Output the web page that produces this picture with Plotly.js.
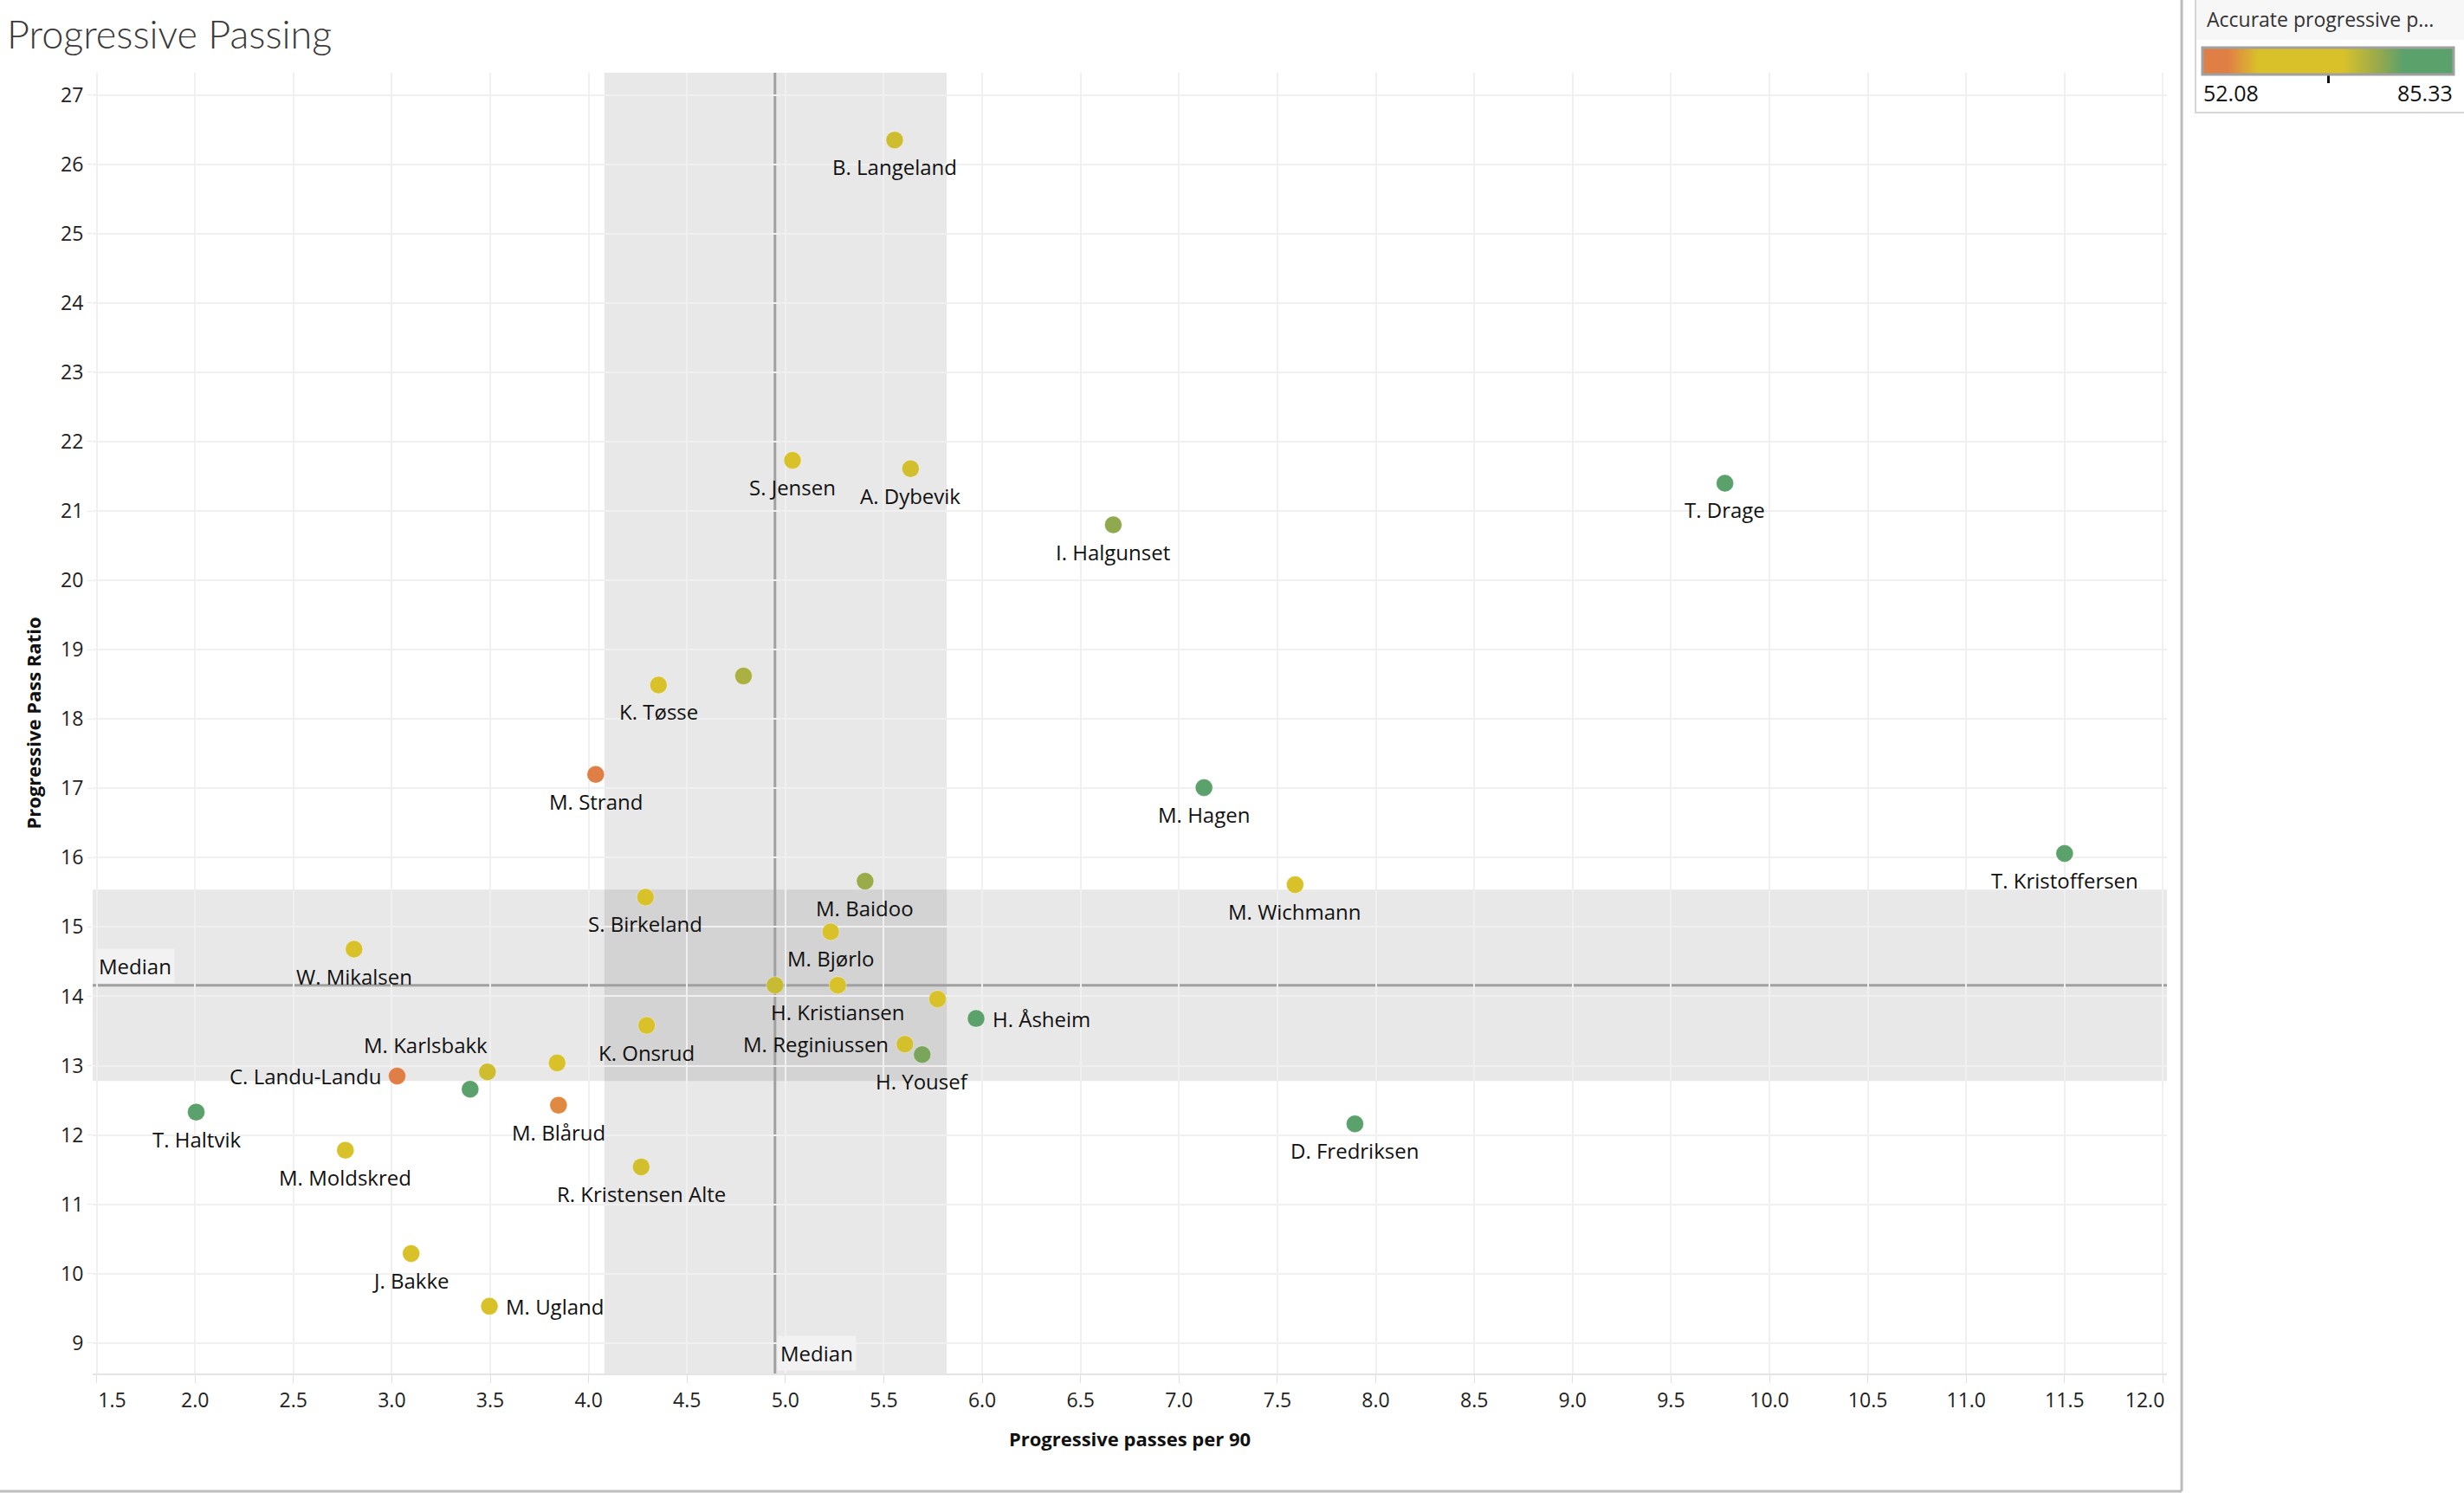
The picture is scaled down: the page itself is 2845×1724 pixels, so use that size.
<!DOCTYPE html>
<html>
<head>
<meta charset="utf-8">
<script src="https://cdn.plot.ly/plotly-3.0.1.min.js"></script>
<style>
  html, body { margin: 0; padding: 0; background: #ffffff; }
  #chart { width: 2845px; height: 1724px; }
</style>
</head>
<body>
<div id="chart"></div>
<script>
// ---------- data ----------
const players = [
  "B. Langeland", "S. Jensen", "A. Dybevik", "I. Halgunset", "T. Drage",
  "K. Tøsse", "", "M. Strand", "M. Hagen", "T. Kristoffersen",
  "M. Wichmann", "M. Baidoo", "S. Birkeland", "M. Bjørlo", "H. Kristiansen",
  "", "", "H. Åsheim", "K. Onsrud", "M. Reginiussen",
  "H. Yousef", "", "M. Karlsbakk", "", "C. Landu-Landu",
  "M. Blårud", "T. Haltvik", "W. Mikalsen", "M. Moldskred", "R. Kristensen Alte",
  "J. Bakke", "M. Ugland", "D. Fredriksen"
];
const progPassesPer90 = [
  5.555, 5.036, 5.636, 6.666, 9.774,
  4.355, 4.787, 4.036, 7.127, 11.50,
  7.590, 5.405, 4.289, 5.230, 5.266,
  4.947, 5.773, 5.969, 4.295, 5.607,
  5.695, 3.840, 3.486, 3.398, 3.027,
  3.847, 2.006, 2.808, 2.764, 4.267,
  3.098, 3.496, 7.894
];
const progPassRatio = [
  26.35, 21.73, 21.61, 20.80, 21.40,
  18.49, 18.62, 17.20, 17.01, 16.06,
  15.61, 15.66, 15.43, 14.93, 14.16,
  14.16, 13.96, 13.68, 13.58, 13.31,
  13.16, 13.04, 12.91, 12.66, 12.85,
  12.43, 12.33, 14.68, 11.78, 11.54,
  10.29, 9.53, 12.16
];
const accurateProgPct = [
  71.5, 65.5, 71.2, 75.8, 84.0,
  65.0, 74.0, 53.0, 83.0, 82.5,
  66.5, 75.2, 65.5, 66.0, 66.5,
  72.0, 66.0, 83.5, 66.0, 71.0,
  77.0, 67.5, 71.5, 81.0, 52.08,
  56.0, 85.33, 65.0, 70.5, 71.2,
  66.0, 64.0, 82.0
];
const colorMin = 52.08, colorMax = 85.33;
const bandX = [4.08, 5.82];   // shaded reference band on x
const bandY = [12.78, 15.54]; // shaded reference band on y
const xTickVals = [1.5, 2.0, 2.5, 3.0, 3.5, 4.0, 4.5, 5.0, 5.5, 6.0, 6.5, 7.0,
                   7.5, 8.0, 8.5, 9.0, 9.5, 10.0, 10.5, 11.0, 11.5, 12.0];
const yTickVals = [9, 10, 11, 12, 13, 14, 15, 16, 17, 18, 19, 20, 21, 22, 23, 24, 25, 26, 27];

// ---------- label placement (style) ----------
const labelPos = players.map(() => "below");
labelPos[players.indexOf("H. Åsheim")] = "right";
labelPos[players.indexOf("M. Ugland")] = "right";
labelPos[players.indexOf("M. Reginiussen")] = "left";
labelPos[players.indexOf("C. Landu-Landu")] = "left";
labelPos[players.indexOf("M. Karlsbakk")] = "topleft";

function median(a) {
  const s = [...a].sort((p, q) => p - q);
  const n = s.length;
  return n % 2 ? s[(n - 1) / 2] : (s[n / 2 - 1] + s[n / 2]) / 2;
}
const medX = median(progPassesPer90);
const medY = median(progPassRatio);

// ---------- geometry helpers (pixels -> paper) ----------
const W = 2845, H = 1724;
const ML = 107, MR = 343, MT = 84, MB = 138;
const PL = ML, PR = W - MR, PT = MT, PB = H - MB;
const px = v => (v - PL) / (PR - PL);
const py = v => (PB - v) / (PB - PT);

const FONT = "Open Sans, Noto Sans, sans-serif";

const colorscale = [
  [0.00, "#e07f45"], [0.10, "#e07f45"],
  [0.225, "#d9c229"], [0.557, "#d9c229"],
  [0.70, "#98aa4b"], [0.80, "#5ba16b"], [1.00, "#5ba16b"]
];

const xTickText = xTickVals.map((v, i) => {
  const s = v.toFixed(1);
  if (i === 0) return "\u00a0\u00a0\u00a0\u00a0\u00a0\u00a0" + s;
  if (i === xTickVals.length - 1) return s + "\u00a0\u00a0\u00a0\u00a0\u00a0\u00a0\u00a0";
  return s;
});

const trace = {
  type: "scatter",
  mode: "markers",
  x: progPassesPer90,
  y: progPassRatio,
  text: players,
  cliponaxis: false,
  hovertemplate: "%{text}<br>%{x}<br>%{y}<br>%{marker.color}<extra></extra>",
  marker: {
    size: 20,
    color: accurateProgPct,
    cmin: colorMin,
    cmax: colorMax,
    colorscale: colorscale,
    line: { width: 1, color: "rgba(255,255,255,0.35)" },
    showscale: true,
    colorbar: {
      orientation: "h",
      xref: "paper", yref: "paper",
      x: px(2688), xanchor: "center",
      y: py(55), yanchor: "top",
      len: 290, lenmode: "pixels",
      thickness: 31, thicknessmode: "pixels",
      xpad: 0, ypad: 0,
      outlinecolor: "#a0a0a0", outlinewidth: 3,
      bgcolor: "rgba(0,0,0,0)",
      tickvals: [(colorMin + colorMax) / 2],
      ticks: "outside", ticklen: 9, tickwidth: 3, tickcolor: "#111111",
      showticklabels: false,
      title: { text: "" }
    }
  }
};

const shapes = [
  // reference bands
  { type: "rect", xref: "x", yref: "paper", x0: bandX[0], x1: bandX[1], y0: 0, y1: 1,
    fillcolor: "rgba(0,0,0,0.09)", line: { width: 0 }, layer: "below" },
  { type: "rect", xref: "paper", yref: "y", x0: 0, x1: 1, y0: bandY[0], y1: bandY[1],
    fillcolor: "rgba(0,0,0,0.09)", line: { width: 0 }, layer: "below" },
  // median lines
  { type: "line", xref: "x", yref: "paper", x0: medX, x1: medX, y0: 0, y1: 1,
    line: { color: "#a0a0a0", width: 3 }, layer: "between" },
  { type: "line", xref: "paper", yref: "y", x0: 0, x1: 1, y0: medY, y1: medY,
    line: { color: "#a0a0a0", width: 3 }, layer: "between" },
  // dashboard frame lines
  { type: "line", xref: "paper", yref: "paper", x0: px(2519), x1: px(2519), y0: py(0), y1: py(1722),
    line: { color: "#bdbdbd", width: 3 }, layer: "above" },
  { type: "line", xref: "paper", yref: "paper", x0: px(0), x1: px(2519), y0: py(1722), y1: py(1722),
    line: { color: "#bdbdbd", width: 3 }, layer: "above" },
  // legend box
  { type: "rect", xref: "paper", yref: "paper", x0: px(2536), x1: px(2850), y0: py(0), y1: py(46),
    fillcolor: "#f7f7f7", line: { width: 0 }, layer: "below" },
  { type: "rect", xref: "paper", yref: "paper", x0: px(2535), x1: px(2852), y0: py(-5), y1: py(130),
    fillcolor: "rgba(0,0,0,0)", line: { color: "#d6d6d6", width: 2 }, layer: "above" }
];

const LABEL_FONT = { family: FONT, size: 24, color: "#111111" };
const pointLabels = [];
players.forEach((name, i) => {
  if (!name) return;
  const a = { text: name, x: progPassesPer90[i], y: progPassRatio[i], xref: "x", yref: "y",
              showarrow: false, font: LABEL_FONT, xanchor: "center", yanchor: "middle" };
  const p = labelPos[i];
  if (p === "below") { a.yshift = -31; }
  else if (p === "right") { a.xanchor = "left"; a.xshift = 17; }
  else if (p === "left") { a.xanchor = "right"; a.xshift = -17; }
  else if (p === "topleft") { a.xanchor = "right"; a.xshift = 2; a.yshift = 31; }
  pointLabels.push(a);
});

const annotations = pointLabels.concat([
  { text: "Median", xref: "paper", yref: "y", x: px(110), y: medY, xanchor: "left", yanchor: "bottom",
    yshift: 2, showarrow: false, bgcolor: "#f2f2f2", borderpad: 3,
    font: { family: FONT, size: 24, color: "#111111" } },
  { text: "Median", xref: "x", yref: "paper", x: medX, y: 0, xanchor: "left", yanchor: "bottom",
    xshift: 2, yshift: 3, showarrow: false, bgcolor: "#f2f2f2", borderpad: 3,
    font: { family: FONT, size: 24, color: "#111111" } },
  // legend texts
  { text: "Accurate progressive p...", xref: "paper", yref: "paper", x: px(2546), y: py(22),
    xanchor: "left", yanchor: "middle", showarrow: false,
    font: { family: FONT, size: 23, color: "#333333" } },
  { text: colorMin.toFixed(2), xref: "paper", yref: "paper", x: px(2542), y: py(107),
    xanchor: "left", yanchor: "middle", showarrow: false,
    font: { family: FONT, size: 25, color: "#111111" } },
  { text: colorMax.toFixed(2), xref: "paper", yref: "paper", x: px(2834), y: py(107),
    xanchor: "right", yanchor: "middle", showarrow: false,
    font: { family: FONT, size: 25, color: "#111111" } }
]);

const layout = {
  width: W, height: H,
  paper_bgcolor: "#ffffff",
  plot_bgcolor: "#ffffff",
  margin: { l: ML, r: MR, t: MT, b: MB, autoexpand: false },
  showlegend: false,
  title: {
    text: "Progressive Passing",
    xref: "container", yref: "container",
    x: 8 / W, xanchor: "left",
    y: 1 - 40 / H, yanchor: "middle",
    font: { family: "Lato, Open Sans, sans-serif", size: 45, color: "#3a3a3a", weight: 300 }
  },
  xaxis: {
    range: [1.48, 12.02],
    tickmode: "array", tickvals: xTickVals, ticktext: xTickText,
    showgrid: true, gridcolor: "#f0f0f0", gridwidth: 2,
    zeroline: false,
    showline: true, linecolor: "#e4e4e4", linewidth: 2, mirror: false,
    ticks: "outside", ticklen: 9, tickwidth: 1, tickcolor: "#e0e0e0",
    tickfont: { family: FONT, size: 23, color: "#222222" },
    title: { text: "Progressive passes per 90", standoff: 24,
             font: { family: FONT, size: 22, color: "#111111", weight: 700 } }
  },
  yaxis: {
    range: [8.56, 27.32],
    tickmode: "array", tickvals: yTickVals,
    showgrid: true, gridcolor: "#f0f0f0", gridwidth: 2,
    zeroline: false, showline: false,
    ticks: "outside", ticklen: 5, tickwidth: 1, tickcolor: "#e8e8e8",
    tickfont: { family: FONT, size: 23, color: "#222222" },
    title: { text: "Progressive Pass Ratio", standoff: 16,
             font: { family: FONT, size: 22, color: "#111111", weight: 700 } }
  },
  shapes: shapes,
  annotations: annotations
};

Plotly.newPlot("chart", [trace], layout, { displayModeBar: false, staticPlot: true });
</script>
</body>
</html>
